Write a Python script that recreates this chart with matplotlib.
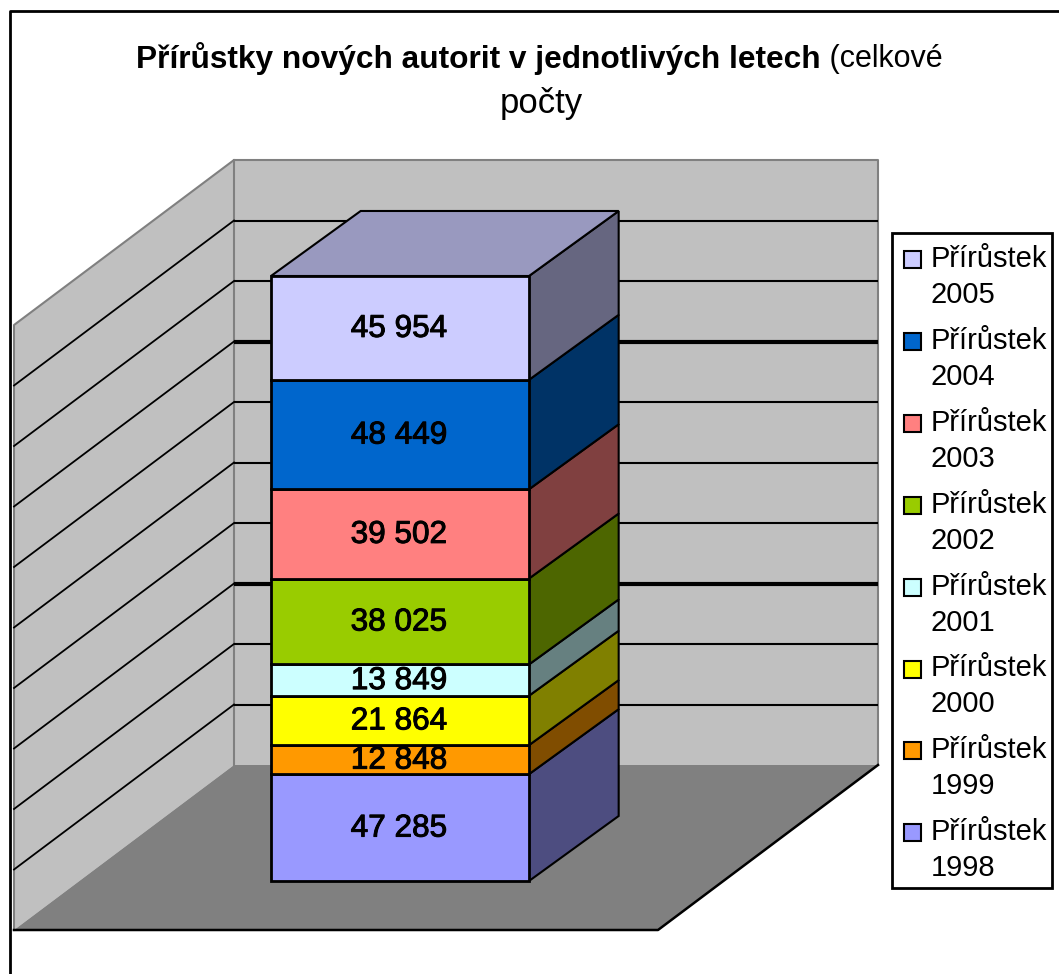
import matplotlib
matplotlib.use('Agg')
import matplotlib.pyplot as plt
import matplotlib.patheffects as pe
from matplotlib.patches import Polygon, Rectangle
from matplotlib.colors import to_rgb

plt.rcParams['font.family'] = ['Liberation Sans', 'DejaVu Sans']

# data, bottom of the stack first
years = [1998, 1999, 2000, 2001, 2002, 2003, 2004, 2005]
values = [47285, 12848, 21864, 13849, 38025, 39502, 48449, 45954]
colors = ['#9999FF', '#FF9900', '#FFFF00', '#CCFFFF', '#99CC00', '#FF8080', '#0066CC', '#CCCCFF']
grid_pct = [10, 20, 30, 40, 50, 60, 70, 80, 90]
thick_grid = [30, 70]

title_bold = 'Přírůstky nových autorit v jednotlivých letech'
title_rest = ' (celkové'
title_line2 = 'počty'

# figure is laid out in pixels
W, H = 1059, 974
fig = plt.figure(figsize=(W / 100, H / 100), dpi=100)
ax = fig.add_axes([0, 0, 1, 1])
ax.set_xlim(0, W)
ax.set_ylim(H, 0)
ax.axis('off')

# 3D box of the plot
left, right = 14, 658
base_y, wall_h = 930, 605
dx, dy = 220, 165


def pt(x, depth, pct):
    # x along the front, depth 0 (front) to 1 (back), pct is the height
    return (x + dx * depth, base_y - dy * depth - wall_h * pct / 100)


def poly(points, fc, ec='none', lw=1.0, z=1):
    ax.add_patch(Polygon(points, closed=True, fc=fc, ec=ec, lw=lw, zorder=z, joinstyle='miter'))


# walls and floor
poly([pt(left, 0, 0), pt(left, 1, 0), pt(left, 1, 100), pt(left, 0, 100)], '#C0C0C0')
poly([pt(left, 1, 0), pt(right, 1, 0), pt(right, 1, 100), pt(left, 1, 100)], '#C0C0C0')
poly([pt(left, 0, 0), pt(right, 0, 0), pt(right, 1, 0), pt(left, 1, 0)], '#808080')

# wall edges
ax.plot(*zip(pt(left, 0, 0), pt(left, 0, 100), pt(left, 1, 100), pt(right, 1, 100), pt(right, 1, 0)),
        color='#808080', lw=1.5, zorder=2)
ax.plot(*zip(pt(left, 1, 0), pt(left, 1, 100)), color='#808080', lw=1.5, zorder=2)
ax.plot(*zip(pt(left, 0, 0), pt(right, 0, 0), pt(right, 1, 0)), color='black', lw=1.8, zorder=2)

# gridlines
for p in grid_pct:
    lw = 3 if p in thick_grid else 1.5
    ax.plot(*zip(pt(left, 0, p), pt(left, 1, p)), color='black', lw=1.3, zorder=2)
    ax.plot(*zip(pt(left, 1, p), pt(right, 1, p)), color='black', lw=lw, zorder=2, solid_capstyle='butt')

# stacked column, 100 %
col_l, col_r = 271, 529
col_d0, col_d1 = 0.297, 0.691
skew = 3  # column depth runs a bit flatter than the floor
total = sum(values)
bottom = 0
for v, c in zip(values, colors):
    top = bottom + v / total * 100
    rgb = to_rgb(c)
    side = tuple(i * 0.5 for i in rgb)
    x0, x1 = col_l - dx * col_d0, col_r - dx * col_d0
    poly([pt(x1, col_d0, bottom), pt(x1 + skew, col_d1, bottom), pt(x1 + skew, col_d1, top), pt(x1, col_d0, top)],
         side, 'black', 1.5, 3)
    poly([pt(x0, col_d0, bottom), pt(x1, col_d0, bottom), pt(x1, col_d0, top), pt(x0, col_d0, top)],
         c, 'black', 2, 4)
    tx, ty = pt((x0 + x1) / 2, col_d0, (bottom + top) / 2)
    lab = ax.text(tx - 1, ty + 1, f'{v:,}'.replace(',', ' '), ha='center', va='center', fontsize=22.7,
                  color='black', zorder=6)
    lab.set_path_effects([pe.withStroke(linewidth=0.7, foreground='black')])
    bottom = top

top_c = tuple(i * 0.75 for i in to_rgb(colors[-1]))
poly([pt(x0, col_d0, 100), pt(x1, col_d0, 100), pt(x1 + skew, col_d1, 100), pt(x0 + skew, col_d1, 100)],
     top_c, 'black', 1.5, 3)

# title, bold part followed by normal part
t1 = ax.text(136, 59, title_bold, fontsize=22.8, fontweight='bold', va='center', ha='left')
fig.canvas.draw()
bb = t1.get_window_extent()
ax.text(bb.x1, 59, title_rest, fontsize=22, va='center', ha='left')
ax.text(541, 103, title_line2, fontsize=25, va='center', ha='center')

# legend, newest on top
ax.add_patch(Rectangle((892, 233), 160, 655, fc='white', ec='black', lw=2, zorder=5))
for i, (y, c) in enumerate(zip(years[::-1], colors[::-1])):
    y0 = 259 + i * 81.9
    ax.add_patch(Rectangle((904, y0 - 8), 17, 17, fc=c, ec='black', lw=1.5, zorder=6))
    ax.text(931, y0, 'Přírůstek', fontsize=21, va='center', ha='left', zorder=6)
    ax.text(931, y0 + 36, str(y), fontsize=21, va='center', ha='left', zorder=6)

# chart border, only top and left are visible in the picture
ax.plot([10, 10, W], [H, 11, 11], color='black', lw=2, zorder=7)

fig.savefig('out.png', dpi=100)
